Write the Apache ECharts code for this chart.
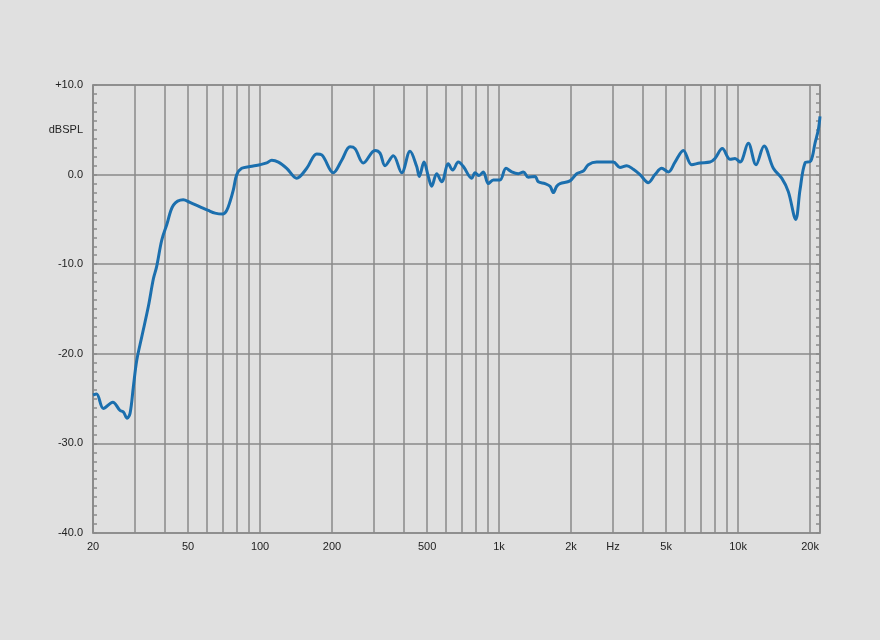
<!DOCTYPE html>
<html>
<head>
<meta charset="utf-8">
<script src="https://cdn.jsdelivr.net/npm/echarts@6/dist/echarts.min.js"></script>
<style>
html,body{margin:0;padding:0;background:#e0e0e0;}
#chart{width:880px;height:640px;}
</style>
</head>
<body>
<div id="chart"></div>
<script>
// Frequency (Hz) of each sample
var freqs = [20, 20.7, 22.1, 24.2, 25.9, 26.8, 27.8, 28.6, 29.5, 30.5,
  32.0, 34.1, 35.8, 36.9, 38.8, 40.7, 43.4, 47.7, 50.9, 56.1,
  60.7, 64.8, 69.8, 72.5, 74.9, 77.3, 79.9, 83.8, 90.8, 99.9,
  106.6, 111.9, 119.3, 129.3, 142.3, 156.8, 172.6, 181.1, 202.5, 219.6,
  237.9, 249.6, 270.4, 302.6, 317.6, 333.3, 361.1, 391.4, 424.1, 452.3,
  463.7, 485.2, 505.7, 522.7, 548.4, 575.5, 613.3, 639.8, 675.4, 708.7,
  768.3, 793.2, 824.4, 859.3, 901.6, 946.1, 1009, 1069, 1130, 1204,
  1263, 1325, 1414, 1460, 1557, 1634, 1687, 1743, 1799, 1981,
  2113, 2252, 2363, 2562, 2776, 3006, 3206, 3421, 3645, 3888,
  4212, 4493, 4792, 5108, 5448, 5902, 6398, 6930, 7630, 8007,
  8592, 9256, 9712, 10190, 11036, 11888, 12842, 14046, 15228, 16226,
  17426, 18164, 19060, 20134, 20986, 21662, 22020];
// Level (dB SPL) of each sample
var levels = [-24.6, -24.5, -26.1, -25.4, -26.3, -26.5, -27.2, -26.6, -23.7, -20.7,
  -18.1, -14.7, -11.6, -10.3, -7.3, -5.6, -3.4, -2.8, -3.1, -3.6,
  -4.0, -4.3, -4.4, -4.0, -3.0, -1.7, 0.0, 0.7, 0.9, 1.1,
  1.3, 1.6, 1.4, 0.7, -0.4, 0.7, 2.3, 2.2, 0.2, 1.6,
  3.1, 2.9, 1.3, 2.7, 2.4, 1.0, 2.1, 0.2, 2.6, 0.9,
  -0.2, 1.4, -0.2, -1.3, 0.1, -0.8, 1.2, 0.5, 1.4, 0.9,
  -0.4, 0.2, -0.1, 0.3, -1.0, -0.6, -0.6, 0.7, 0.3, 0.1,
  0.3, -0.3, -0.2, -0.8, -1.0, -1.3, -2.0, -1.3, -1.0, -0.7,
  0.1, 0.4, 1.1, 1.4, 1.4, 1.4, 0.8, 1.0, 0.6, 0.0,
  -0.9, 0.0, 0.7, 0.3, 1.4, 2.7, 1.1, 1.3, 1.4, 1.8,
  2.9, 1.7, 1.8, 1.4, 3.5, 1.1, 3.2, 0.7, -0.4, -1.9,
  -5.0, -1.7, 1.3, 1.5, 3.5, 5.0, 6.5];
// Vertical grid line frequencies
var gridFreqs = [20, 30, 40, 50, 60, 70, 80, 90, 100, 200, 300, 400, 500, 600, 700, 800, 900,
  1000, 2000, 3000, 4000, 5000, 6000, 7000, 8000, 9000, 10000, 20000];
// Labelled frequencies and their tick labels
var labelFreqs = [20, 50, 100, 200, 500, 1000, 2000, 3000, 5000, 10000, 20000];
var labelTexts = ['20', '50', '100', '200', '500', '1k', '2k', 'Hz', '5k', '10k', '20k'];

var gridColor = '#8a8a8a';
var textStyle = {color: '#222', fontSize: 11, fontFamily: 'Liberation Sans, Arial, sans-serif'};

var seriesData = freqs.map(function (f, i) { return [f, levels[i]]; });

var markLineData = gridFreqs.map(function (f) {
  var idx = labelFreqs.indexOf(f);
  return {
    xAxis: f,
    label: idx >= 0 ? Object.assign({show: true, position: 'start', distance: 8, formatter: labelTexts[idx]}, textStyle) : {show: false}
  };
});

var chart = echarts.init(document.getElementById('chart'), null, {renderer: 'canvas'});
chart.setOption({
  backgroundColor: '#e0e0e0',
  animation: false,
  grid: {left: 93, right: 60, top: 85, bottom: 107, show: true, borderColor: gridColor, borderWidth: 1.5, backgroundColor: 'transparent'},
  xAxis: {
    type: 'log', logBase: 10, min: 20, max: 22020,
    axisLine: {show: false}, axisTick: {show: false}, axisLabel: {show: false},
    splitLine: {show: false}, minorTick: {show: false}, minorSplitLine: {show: false}
  },
  yAxis: [{
    type: 'value', min: -40, max: 10, interval: 10, position: 'left',
    axisLine: {show: true, lineStyle: {color: gridColor, width: 1.5}},
    axisTick: {show: true, inside: true, length: 4, lineStyle: {color: gridColor, width: 1.5}},
    minorTick: {show: true, splitNumber: 10, length: 4, lineStyle: {color: gridColor, width: 1.5}},
    splitLine: {show: true, lineStyle: {color: gridColor, width: 1.5}},
    axisLabel: Object.assign({margin: 10, formatter: function (v) { return (v > 0 ? '+' : '') + v.toFixed(1); }}, textStyle)
  }, {
    type: 'value', min: -40, max: 10, interval: 5, position: 'left',
    axisLine: {show: false}, axisTick: {show: false}, splitLine: {show: false},
    axisLabel: Object.assign({margin: 10, formatter: function (v) { return v === 5 ? 'dBSPL' : ''; }}, textStyle)
  }, {
    type: 'value', min: -40, max: 10, interval: 10, position: 'right',
    axisLine: {show: true, lineStyle: {color: gridColor, width: 1.5}},
    axisTick: {show: true, inside: true, length: 4, lineStyle: {color: gridColor, width: 1.5}},
    minorTick: {show: true, splitNumber: 10, length: 4, lineStyle: {color: gridColor, width: 1.5}},
    splitLine: {show: false}, axisLabel: {show: false}
  }],
  series: [{
    type: 'line',
    data: seriesData,
    yAxisIndex: 0,
    showSymbol: false,
    smooth: 0.35,
    lineStyle: {color: '#1b6fae', width: 3},
    z: 5,
    markLine: {
      silent: true,
      symbol: ['none', 'none'],
      animation: false,
      lineStyle: {color: gridColor, width: 1.5, type: 'solid'},
      data: markLineData
    }
  }]
});
</script>
</body>
</html>
